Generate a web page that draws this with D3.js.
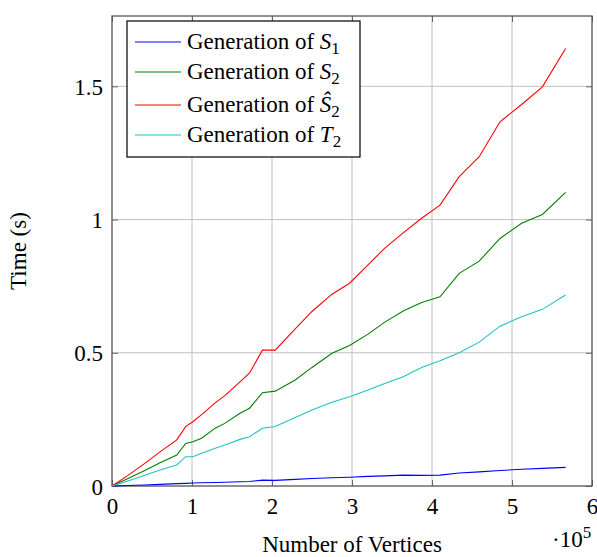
<!DOCTYPE html>
<html><head><meta charset="utf-8">
<script src="https://cdn.jsdelivr.net/npm/d3@7"></script>
<style>body{margin:0;background:#fff}svg{display:block}text{font-family:"Liberation Serif","Times New Roman",serif;fill:#000}</style>
</head><body><svg id="c" width="597" height="557"></svg>
<script>
// x in units of 1e5 vertices
const xVals = [0, 0.2, 0.41, 0.6, 0.81, 0.92, 1.01, 1.12, 1.29, 1.41, 1.6, 1.72, 1.88, 2.04, 2.29, 2.5, 2.75, 2.97, 3.2, 3.41, 3.64, 3.87, 4.1, 4.34, 4.59, 4.85, 5.12, 5.38, 5.67];
const s1 = [0, 0.002, 0.004, 0.006, 0.009, 0.010, 0.011, 0.012, 0.013, 0.014, 0.016, 0.017, 0.022, 0.021, 0.025, 0.028, 0.031, 0.033, 0.036, 0.038, 0.041, 0.040, 0.041, 0.049, 0.053, 0.058, 0.063, 0.066, 0.070];
const s2 = [0, 0.028, 0.058, 0.087, 0.116, 0.160, 0.166, 0.179, 0.217, 0.235, 0.273, 0.292, 0.350, 0.356, 0.398, 0.445, 0.498, 0.527, 0.570, 0.615, 0.657, 0.689, 0.710, 0.798, 0.844, 0.929, 0.986, 1.019, 1.102];
const s2hat = [0, 0.040, 0.085, 0.128, 0.173, 0.223, 0.241, 0.268, 0.312, 0.339, 0.391, 0.424, 0.510, 0.510, 0.590, 0.655, 0.720, 0.761, 0.830, 0.893, 0.950, 1.005, 1.054, 1.161, 1.236, 1.367, 1.432, 1.498, 1.642];
const t2 = [0, 0.019, 0.040, 0.060, 0.079, 0.110, 0.110, 0.123, 0.142, 0.154, 0.175, 0.185, 0.217, 0.223, 0.257, 0.285, 0.314, 0.335, 0.360, 0.385, 0.410, 0.445, 0.470, 0.500, 0.540, 0.600, 0.635, 0.663, 0.717];
const seriesNames = [["S","1"],["S","2"],["Ŝ","2"],["T","2"]];
const seriesColors = ["#0000ff","#008000","#ff0000","#1fc4c4"];
const xTicks = [0,1,2,3,4,5,6];
const yTicks = [0,0.5,1,1.5];
const xLabel = "Number of Vertices", yLabel = "Time (s)";

const FS = "23px", SUB = "17px";
const svg = d3.select("#c");
const L=112, R=592, T=16, B=486;
const x = d3.scaleLinear().domain([0,6]).range([L,R]);
const y = d3.scaleLinear().domain([0,1.764]).range([B,T]);

// grid
svg.append("g").selectAll("line").data(xTicks.slice(1,-1)).join("line")
 .attr("x1",d=>x(d)).attr("x2",d=>x(d)).attr("y1",T).attr("y2",B).attr("stroke","#c0c0c0").attr("stroke-width",1);
svg.append("g").selectAll("line").data(yTicks.slice(1)).join("line")
 .attr("y1",d=>y(d)).attr("y2",d=>y(d)).attr("x1",L).attr("x2",R).attr("stroke","#c0c0c0").attr("stroke-width",1);

// axes with inward ticks
const axB = svg.append("g").attr("transform",`translate(0,${B})`).call(d3.axisBottom(x).tickValues(xTicks).tickSize(-6).tickPadding(8).tickFormat(d3.format("d")));
const axT = svg.append("g").attr("transform",`translate(0,${T})`).call(d3.axisTop(x).tickValues(xTicks).tickSize(-6).tickFormat(""));
const axL = svg.append("g").attr("transform",`translate(${L},0)`).call(d3.axisLeft(y).tickValues(yTicks).tickSize(-6).tickPadding(9).tickFormat(d=>d===0?"0":String(d)));
const axR = svg.append("g").attr("transform",`translate(${R},0)`).call(d3.axisRight(y).tickValues(yTicks).tickSize(-6).tickFormat(""));
[axB,axT,axL,axR].forEach(a=>{a.select(".domain").remove();a.selectAll(".tick line").attr("stroke","#666");a.selectAll("text").style("font-size",FS).style("font-family","Liberation Serif").attr("fill","#000");});
axB.selectAll("text").attr("dy","0.85em");
axL.selectAll("text").attr("dy","0.35em");

svg.append("rect").attr("x",L).attr("y",T).attr("width",R-L).attr("height",B-T).attr("fill","none").attr("stroke","#555").attr("stroke-width",1.3);

const all=[s1,s2,s2hat,t2];
const line=d3.line().x((d,i)=>x(xVals[i])).y(d=>y(d));
all.forEach((s,k)=>svg.append("path").datum(s).attr("d",line).attr("fill","none").attr("stroke",seriesColors[k]).attr("stroke-width",1.1));

// legend
const lg=svg.append("g");
lg.append("rect").attr("x",127).attr("y",21).attr("width",233).attr("height",136).attr("fill","#fff").attr("stroke","#000").attr("stroke-width",1.2);
const rows=[42,72,105,135];
seriesNames.forEach((n,i)=>{
  lg.append("line").attr("x1",135).attr("x2",181).attr("y1",rows[i]).attr("y2",rows[i]).attr("stroke",seriesColors[i]).attr("stroke-width",1.1);
  const t=lg.append("text").attr("x",187).attr("y",rows[i]+7).style("font-size",FS);
  t.append("tspan").text("Generation of ");
  t.append("tspan").style("font-style","italic").text(n[0]);
  t.append("tspan").attr("dy",5).style("font-size",SUB).text(n[1]);
});

svg.append("text").attr("x",352).attr("y",552).attr("text-anchor","middle").style("font-size",FS).text(xLabel);
svg.append("text").attr("transform","translate(26,251) rotate(-90)").attr("text-anchor","middle").style("font-size",FS).text(yLabel);
const e=svg.append("text").attr("x",552).attr("y",547).style("font-size",FS);
e.append("tspan").text("·10");
e.append("tspan").attr("dy",-9).style("font-size",SUB).text("5");
</script></body></html>
